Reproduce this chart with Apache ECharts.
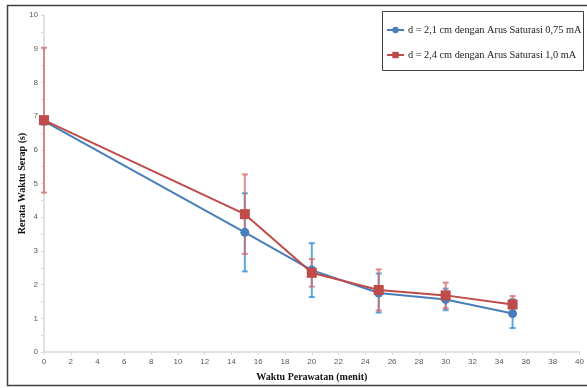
<!DOCTYPE html>
<html>
<head>
<meta charset="utf-8">
<script src="https://cdn.jsdelivr.net/npm/echarts@6/dist/echarts.min.js"></script>
<style>
  html, body { margin: 0; padding: 0; background: #fff; }
  #chart { width: 587px; height: 388px; }
</style>
</head>
<body>
<div id="chart"></div>
<script>
// waktu perawatan (menit)
const times = [0, 15, 20, 25, 30, 35];

const blueName = "d = 2,1 cm dengan Arus Saturasi 0,75 mA";
const blueMean = [6.85, 3.55, 2.43, 1.75, 1.56, 1.14];
const blueErr = [0.1, 1.16, 0.8, 0.58, 0.32, 0.43];

const redName = "d = 2,4 cm dengan Arus Saturasi 1,0 mA";
const redMean = [6.88, 4.09, 2.35, 1.84, 1.68, 1.41];
const redErr = [2.15, 1.18, 0.41, 0.61, 0.38, 0.25];

const BLUE = "#4a7ebb";
const RED = "#be4b48";

const toPairs = (ys) => times.map((t, i) => [t, ys[i]]);
const toErr = (ys, es) => times.map((t, i) => [t, ys[i] - es[i], ys[i] + es[i]]);

// error bar drawn through the axis scales
function errorBar(color) {
  return function (params, api) {
    const x = api.value(0);
    const lo = api.coord([x, api.value(1)]);
    const hi = api.coord([x, api.value(2)]);
    const w = 3;
    const style = { stroke: color, lineWidth: 2, opacity: 0.75 };
    return {
      type: "group",
      children: [
        { type: "line", shape: { x1: hi[0], y1: hi[1], x2: lo[0], y2: lo[1] }, style },
        { type: "line", shape: { x1: hi[0] - w, y1: hi[1], x2: hi[0] + w, y2: hi[1] }, style },
        { type: "line", shape: { x1: lo[0] - w, y1: lo[1], x2: lo[0] + w, y2: lo[1] }, style },
      ],
    };
  };
}

const axisGray = "#d9d9d9";
const labelGray = "#595959";

const chart = echarts.init(document.getElementById("chart"));
chart.setOption({
  animation: false,
  grid: { left: 44, right: 5, top: 15, bottom: 36 },
  graphic: [
    {
      type: "rect",
      shape: { x: 7.5, y: 5.5, width: 600, height: 380 },
      style: { fill: "none", stroke: "#404040", lineWidth: 1.5 },
      z: -1,
    },
    {
      type: "rect",
      shape: { x: 382.5, y: 11.5, width: 201, height: 59 },
      style: { fill: "#fff", stroke: "#404040", lineWidth: 1 },
      z: 0,
    },
  ],
  legend: {
    orient: "vertical",
    left: 381,
    top: 20,
    itemGap: 15,
    itemWidth: 17,
    itemHeight: 8,
    data: [blueName, redName],
    textStyle: { fontFamily: "Liberation Serif", fontSize: 10.3, color: "#222", padding: [0, 0, 0, -1] },
    z: 5,
  },
  xAxis: {
    type: "value",
    min: 0,
    max: 40,
    interval: 2,
    name: "Waktu Perawatan (menit)",
    nameLocation: "middle",
    nameGap: 20,
    nameTextStyle: { fontFamily: "Liberation Serif", fontWeight: "bold", fontSize: 10, color: "#111" },
    axisLine: { lineStyle: { color: axisGray, width: 1.5 } },
    axisTick: { show: true, length: 3, lineStyle: { color: axisGray } },
    axisLabel: { fontSize: 8, color: labelGray, margin: 6, fontFamily: "Liberation Sans" },
    splitLine: { show: false },
  },
  yAxis: {
    type: "value",
    min: 0,
    max: 10,
    interval: 1,
    name: "Rerata Waktu Serap (s)",
    nameLocation: "middle",
    nameGap: 17,
    nameMoveOverlap: false,
    nameTextStyle: { fontFamily: "Liberation Serif", fontWeight: "bold", fontSize: 10, color: "#111" },
    axisLine: { show: true, lineStyle: { color: axisGray, width: 1.5 } },
    axisTick: { show: true, length: 3, lineStyle: { color: axisGray } },
    minorTick: { show: true, splitNumber: 2, length: 3, lineStyle: { color: axisGray } },
    axisLabel: { fontSize: 8, color: labelGray, margin: 6, fontFamily: "Liberation Sans" },
    splitLine: { show: false },
  },
  series: [
    {
      name: blueName,
      type: "line",
      data: toPairs(blueMean),
      symbol: "circle",
      symbolSize: 9,
      lineStyle: { color: BLUE, width: 2 },
      itemStyle: { color: BLUE },
      z: 3,
    },
    {
      name: redName,
      type: "line",
      data: toPairs(redMean),
      symbol: "rect",
      symbolSize: 10,
      lineStyle: { color: RED, width: 2 },
      itemStyle: { color: RED },
      z: 4,
    },
    {
      type: "custom",
      data: toErr(blueMean, blueErr),
      renderItem: errorBar("#2a8ad6"),
      encode: { x: 0, y: [1, 2] },
      z: 2,
    },
    {
      type: "custom",
      data: toErr(redMean, redErr),
      renderItem: errorBar("#d4676a"),
      encode: { x: 0, y: [1, 2] },
      z: 2,
    },
  ],
});
</script>
</body>
</html>
